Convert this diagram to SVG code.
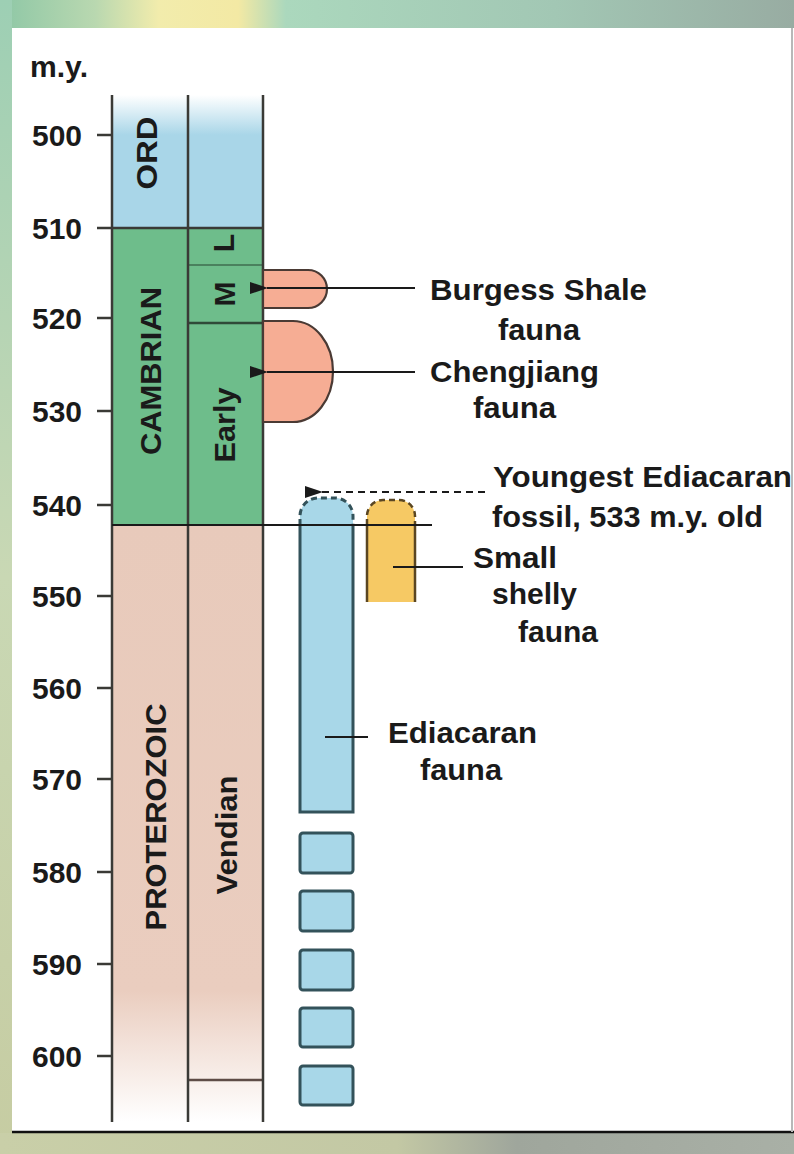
<svg xmlns="http://www.w3.org/2000/svg" width="794" height="1154" viewBox="0 0 794 1154">
  <style>
    .lbl { font-family: "Liberation Sans", Arial, sans-serif; font-weight: bold; font-size: 29px; fill: #1a1a1a; }
    .ax { font-family: "Liberation Sans", Arial, sans-serif; font-weight: bold; font-size: 30px; fill: #1a1a1a; }
    .rot { font-family: "Liberation Sans", Arial, sans-serif; font-weight: bold; font-size: 30px; fill: #1a1a1a; text-anchor: middle; }
    .col { stroke: #3a3a36; stroke-width: 2.5; fill: none; }
    .tick { stroke: #3a3a36; stroke-width: 2.5; }
    .bar { fill: #a8d7e8; }
    .barline { stroke: #33525a; stroke-width: 3; fill: none; }
    .conn { stroke: #1a1a1a; stroke-width: 2.2; fill: none; }
  </style>
  <defs>
    <linearGradient id="topband" x1="0" y1="0" x2="1" y2="0">
      <stop offset="0" stop-color="#8ec7a6"/>
      <stop offset="0.12" stop-color="#b9d8b0"/>
      <stop offset="0.2" stop-color="#f2ecac"/>
      <stop offset="0.3" stop-color="#f3e9a4"/>
      <stop offset="0.36" stop-color="#abd8bd"/>
      <stop offset="0.7" stop-color="#a2c7b4"/>
      <stop offset="1" stop-color="#98aca2"/>
    </linearGradient>
    <linearGradient id="leftstrip" x1="0" y1="0" x2="0" y2="1">
      <stop offset="0" stop-color="#9dcfb4"/>
      <stop offset="0.5" stop-color="#c9d8b4"/>
      <stop offset="1" stop-color="#c6cca2"/>
    </linearGradient>
    <linearGradient id="botband" x1="0" y1="0" x2="1" y2="0">
      <stop offset="0" stop-color="#c9cfa8"/>
      <stop offset="0.5" stop-color="#c3c8a4"/>
      <stop offset="0.65" stop-color="#9fa69c"/>
      <stop offset="1" stop-color="#a9b0a6"/>
    </linearGradient>
    <linearGradient id="ordfill" x1="0" y1="0" x2="0" y2="1">
      <stop offset="0" stop-color="#ffffff"/>
      <stop offset="0.3" stop-color="#a9d6e8"/>
      <stop offset="1" stop-color="#a9d6e8"/>
    </linearGradient>
    <linearGradient id="protfill" x1="0" y1="0" x2="0" y2="1">
      <stop offset="0" stop-color="#e8cabb"/>
      <stop offset="0.78" stop-color="#eacdbf"/>
      <stop offset="1" stop-color="#ffffff"/>
    </linearGradient>
    <marker id="arrow" viewBox="0 0 18 12" refX="1" refY="6" markerWidth="18" markerHeight="12" markerUnits="userSpaceOnUse" orient="auto-start-reverse">
      <path d="M0,6 L18,0 L18,12 Z" fill="#1a1a1a"/>
    </marker>
  </defs>

  <g id="background">
    <rect x="0" y="0" width="794" height="1154" fill="#ffffff"/>
    <rect x="0" y="0" width="794" height="28" fill="url(#topband)"/>
    <rect x="0" y="0" width="12" height="1154" fill="url(#leftstrip)"/>
    <rect x="0" y="1133" width="794" height="21" fill="url(#botband)"/>
    <line x1="12" y1="1132" x2="794" y2="1132" stroke="#111" stroke-width="2.5"/>
    <line x1="792" y1="28" x2="792" y2="1132" stroke="#b8b8b8" stroke-width="2"/>
  </g>

  <g id="axis">
    <text class="ax" x="30" y="77" font-size="29" textLength="58" lengthAdjust="spacingAndGlyphs">m.y.</text>
    <g class="ax">
      <text x="32" y="146">500</text>
      <text x="32" y="239">510</text>
      <text x="32" y="329">520</text>
      <text x="32" y="422">530</text>
      <text x="32" y="516">540</text>
      <text x="32" y="607">550</text>
      <text x="32" y="699">560</text>
      <text x="32" y="790">570</text>
      <text x="32" y="883">580</text>
      <text x="32" y="975">590</text>
      <text x="32" y="1067">600</text>
    </g>
    <g class="tick">
      <line x1="97" y1="135" x2="112" y2="135"/>
      <line x1="97" y1="505" x2="112" y2="505"/>
      <line x1="97" y1="318" x2="112" y2="318"/>
      <line x1="97" y1="411" x2="112" y2="411"/>
      <line x1="97" y1="596" x2="112" y2="596"/>
      <line x1="97" y1="688" x2="112" y2="688"/>
      <line x1="97" y1="779" x2="112" y2="779"/>
      <line x1="97" y1="872" x2="112" y2="872"/>
      <line x1="97" y1="964" x2="112" y2="964"/>
      <line x1="97" y1="1056" x2="112" y2="1056"/>
    </g>
  </g>

  <g id="ordovician">
    <rect x="112" y="95" width="151" height="133" fill="url(#ordfill)"/>
    <text class="rot" transform="translate(157,153) rotate(-90)" textLength="73" lengthAdjust="spacingAndGlyphs">ORD</text>
  </g>

  <g id="cambrian">
    <rect x="112" y="228" width="151" height="297" fill="#6ebd8b"/>
    <text class="rot" transform="translate(161,371) rotate(-90)" textLength="168" lengthAdjust="spacingAndGlyphs">CAMBRIAN</text>
    <line x1="188" y1="265" x2="263" y2="265" stroke="#3f6e4f" stroke-width="1.5"/>
    <line x1="188" y1="323" x2="263" y2="323" stroke="#2f4a38" stroke-width="2.5"/>
    <text class="rot" font-size="26" transform="translate(234,243) rotate(-90)">L</text>
    <text class="rot" font-size="28" transform="translate(235,294) rotate(-90)">M</text>
    <text class="rot" transform="translate(235,425) rotate(-90)" textLength="75" lengthAdjust="spacingAndGlyphs">Early</text>
  </g>

  <g id="proterozoic">
    <rect x="112" y="525" width="151" height="597" fill="url(#protfill)"/>
    <text class="rot" transform="translate(166,817) rotate(-90)" textLength="227" lengthAdjust="spacingAndGlyphs">PROTEROZOIC</text>
    <text class="rot" transform="translate(237,835) rotate(-90)" textLength="119" lengthAdjust="spacingAndGlyphs">Vendian</text>
    <line x1="188" y1="1080" x2="263" y2="1080" stroke="#5e4c46" stroke-width="2.5"/>
  </g>

  <g id="columns">
    <line class="col" x1="112" y1="95" x2="112" y2="1122"/>
    <line class="col" x1="188" y1="95" x2="188" y2="1122"/>
    <line class="col" x1="263" y1="95" x2="263" y2="1122"/>
    <line class="col" x1="97" y1="228" x2="263" y2="228"/>
  </g>

  <g id="burgess-shale">
    <path d="M263,270 H308 A19,19 0 0 1 308,308 H263 Z" fill="#f6ad94" stroke="#4a3a34" stroke-width="2.2"/>
    <text class="lbl" x="430" y="300" textLength="217" lengthAdjust="spacingAndGlyphs">Burgess Shale</text>
    <text class="lbl" x="498" y="340" textLength="82" lengthAdjust="spacingAndGlyphs">fauna</text>
  </g>

  <g id="chengjiang">
    <path d="M263,321 H293 A40,50.5 0 0 1 293,422 H263 Z" fill="#f6ad94" stroke="#4a3a34" stroke-width="2.2"/>
    <text class="lbl" x="430" y="382" textLength="169" lengthAdjust="spacingAndGlyphs">Chengjiang</text>
    <text class="lbl" x="473" y="418" textLength="83" lengthAdjust="spacingAndGlyphs">fauna</text>
  </g>

  <g id="ediacaran">
    <path class="bar" d="M300,812 V516 A18,18 0 0 1 318,498 H335 A18,18 0 0 1 353,516 V812 Z"/>
    <path class="barline" stroke-dasharray="6,4" d="M300,525 V516 A18,18 0 0 1 318,498 H335 A18,18 0 0 1 353,516 V525"/>
    <path class="barline" d="M300,525 V812 H353 V525"/>
    <rect class="bar" x="300" y="833" width="53" height="40" rx="3"/>
    <rect class="barline" x="300" y="833" width="53" height="40" rx="3"/>
    <rect class="bar" x="300" y="891" width="53" height="40" rx="3"/>
    <rect class="barline" x="300" y="891" width="53" height="40" rx="3"/>
    <rect class="bar" x="300" y="950" width="53" height="40" rx="3"/>
    <rect class="barline" x="300" y="950" width="53" height="40" rx="3"/>
    <rect class="bar" x="300" y="1008" width="53" height="39" rx="3"/>
    <rect class="barline" x="300" y="1008" width="53" height="39" rx="3"/>
    <rect class="bar" x="300" y="1066" width="53" height="39" rx="3"/>
    <rect class="barline" x="300" y="1066" width="53" height="39" rx="3"/>
    <text class="lbl" x="388" y="743" textLength="149" lengthAdjust="spacingAndGlyphs">Ediacaran</text>
    <text class="lbl" x="420" y="780" textLength="82" lengthAdjust="spacingAndGlyphs">fauna</text>
  </g>

  <g id="small-shelly">
    <path d="M367,602 V516 A16,16 0 0 1 383,500 H399 A16,16 0 0 1 415,516 V602 Z" fill="#f6c964"/>
    <path d="M367,525 V516 A16,16 0 0 1 383,500 H399 A16,16 0 0 1 415,516 V525" fill="none" stroke="#5a4622" stroke-width="2.5" stroke-dasharray="6,4"/>
    <path d="M367,525 V602 M415,525 V602" fill="none" stroke="#5a4622" stroke-width="2.5"/>
    <text class="lbl" x="473" y="568" textLength="84" lengthAdjust="spacingAndGlyphs">Small</text>
    <text class="lbl" x="492" y="604" textLength="85" lengthAdjust="spacingAndGlyphs">shelly</text>
    <text class="lbl" x="518" y="642" textLength="80" lengthAdjust="spacingAndGlyphs">fauna</text>
  </g>

  <g id="youngest-ediacaran">
    <text class="lbl" x="493" y="487" textLength="299" lengthAdjust="spacingAndGlyphs">Youngest Ediacaran</text>
    <text class="lbl" x="492" y="527" textLength="271" lengthAdjust="spacingAndGlyphs">fossil, 533 m.y. old</text>
  </g>

  <g id="connectors">
    <line x1="112" y1="525" x2="432" y2="525" stroke="#1a1a1a" stroke-width="2.2"/>
    <line class="conn" x1="415" y1="288" x2="267" y2="288" marker-end="url(#arrow)"/>
    <line class="conn" x1="415" y1="372" x2="267" y2="372" marker-end="url(#arrow)"/>
    <line class="conn" x1="485" y1="492" x2="322" y2="492" stroke-dasharray="7,5" marker-end="url(#arrow)"/>
    <line class="conn" x1="393" y1="567" x2="463" y2="567" stroke="#2a2a1a"/>
    <line class="conn" x1="325" y1="737" x2="368" y2="737" stroke="#2d4a52"/>
  </g>
</svg>
